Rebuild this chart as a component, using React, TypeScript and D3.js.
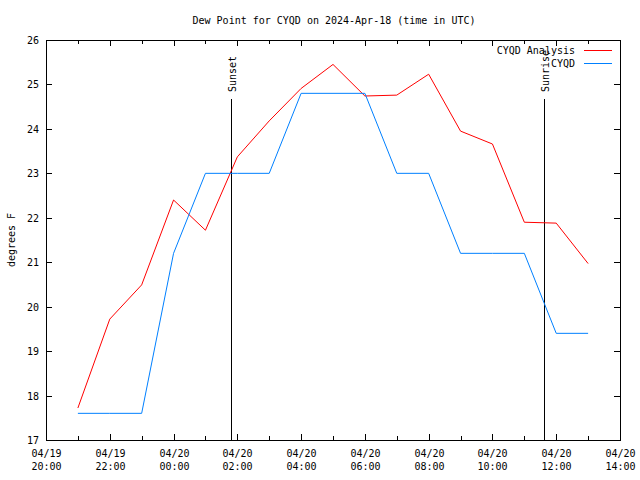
import React from "react";
import * as d3 from "d3";

const hours: string[] = [
  "2024-04-19T21:00", "2024-04-19T22:00", "2024-04-19T23:00", "2024-04-20T00:00",
  "2024-04-20T01:00", "2024-04-20T02:00", "2024-04-20T03:00", "2024-04-20T04:00",
  "2024-04-20T05:00", "2024-04-20T06:00", "2024-04-20T07:00", "2024-04-20T08:00",
  "2024-04-20T09:00", "2024-04-20T10:00", "2024-04-20T11:00", "2024-04-20T12:00",
  "2024-04-20T13:00",
];
const analysis: number[] = [17.72, 19.72, 20.49, 22.4, 21.72, 23.37, 24.18, 24.91, 25.45, 24.74, 24.76, 25.23, 23.95, 23.66, 21.9, 21.88, 20.97];
const observed: number[] = [17.6, 17.6, 17.6, 21.2, 23.0, 23.0, 23.0, 24.8, 24.8, 24.8, 23.0, 23.0, 21.2, 21.2, 21.2, 19.4, 19.4];
const yTicks: number[] = [17, 18, 19, 20, 21, 22, 23, 24, 25, 26];
const sunEvents: { label: string; time: string }[] = [
  { label: "Sunset", time: "2024-04-20T01:49" },
  { label: "Sunrise", time: "2024-04-20T11:37" },
];
const seriesNames: string[] = ["CYQD Analysis", "CYQD"];
const seriesColors: string[] = ["#ff0000", "#0080ff"];

const parse = (s: string) => new Date(s + ":00Z");

export default function App() {
  const W = 640, H = 480;
  const left = 46, right = 620, top = 40, bottom = 440;
  const x = d3.scaleUtc().domain([parse("2024-04-19T20:00"), parse("2024-04-20T14:00")]).range([left, right]);
  const y = d3.scaleLinear().domain([17, 26]).range([bottom, top]);
  const font = "'DejaVu Sans Mono', monospace";
  const fs = 10;

  const hourTicks = d3.utcHour.every(1)!.range(parse("2024-04-19T20:00"), new Date(parse("2024-04-20T14:00").getTime() + 1));
  const fmtDate = d3.utcFormat("%m/%d");
  const fmtTime = d3.utcFormat("%H:%M");

  const line = d3.line<[Date, number]>().x(d => x(d[0])).y(d => y(d[1]));
  const series = [analysis, observed].map(vals => vals.map((v, i) => [parse(hours[i]), v] as [Date, number]));

  return (
    <svg width={W} height={H} style={{ position: "absolute", left: 0, top: 0, background: "#fff" }}>
      <rect x={0} y={0} width={W} height={H} fill="#fff" />
      <text x={334} y={24} textAnchor="middle" fontFamily={font} fontSize={fs} fill="#000">
        Dew Point for CYQD on 2024-Apr-18 (time in UTC)
      </text>
      {yTicks.map(t => (
        <g key={"y" + t}>
          <line x1={left} x2={left + 6} y1={Math.round(y(t)) + 0.5} y2={Math.round(y(t)) + 0.5} stroke="#000" />
          <line x1={right - 6} x2={right} y1={Math.round(y(t)) + 0.5} y2={Math.round(y(t)) + 0.5} stroke="#000" />
          <text x={39} y={y(t) + 4} textAnchor="end" fontFamily={font} fontSize={fs} fill="#000">{t}</text>
        </g>
      ))}
      {hourTicks.map((t, i) => {
        const px = Math.round(x(t)) + 0.5;
        const major = i % 2 === 0;
        const len = major ? 6 : 4;
        return (
          <g key={"x" + i}>
            <line x1={px} x2={px} y1={bottom} y2={bottom - len} stroke="#000" />
            <line x1={px} x2={px} y1={top} y2={top + len} stroke="#000" />
            {major && (
              <g>
                <text x={px} y={457} textAnchor="middle" fontFamily={font} fontSize={fs} fill="#000">{fmtDate(t)}</text>
                <text x={px} y={470} textAnchor="middle" fontFamily={font} fontSize={fs} fill="#000">{fmtTime(t)}</text>
              </g>
            )}
          </g>
        );
      })}
      <text transform={`translate(15,${(top + bottom) / 2}) rotate(-90)`} textAnchor="middle" fontFamily={font} fontSize={fs} fill="#000">degrees F</text>
      {sunEvents.map(ev => {
        const px = Math.round(x(parse(ev.time))) + 0.5;
        return (
          <g key={ev.label}>
            <line x1={px} x2={px} y1={99} y2={bottom} stroke="#000" />
            <text transform={`translate(${px + 4},92) rotate(-90)`} textAnchor="start" fontFamily={font} fontSize={fs} fill="#000">{ev.label}</text>
          </g>
        );
      })}
      {series.map((s, i) => (
        <path key={"s" + i} d={line(s) || ""} fill="none" stroke={seriesColors[i]} strokeWidth={1} />
      ))}
      {seriesNames.map((n, i) => (
        <g key={"l" + i}>
          <text x={575} y={54 + i * 13} textAnchor="end" fontFamily={font} fontSize={fs} fill="#000">{n}</text>
          <line x1={584} x2={612} y1={50.5 + i * 13} y2={50.5 + i * 13} stroke={seriesColors[i]} strokeWidth={1} />
        </g>
      ))}
      <rect x={left + 0.5} y={top + 0.5} width={right - left} height={bottom - top} fill="none" stroke="#000" />
    </svg>
  );
}
